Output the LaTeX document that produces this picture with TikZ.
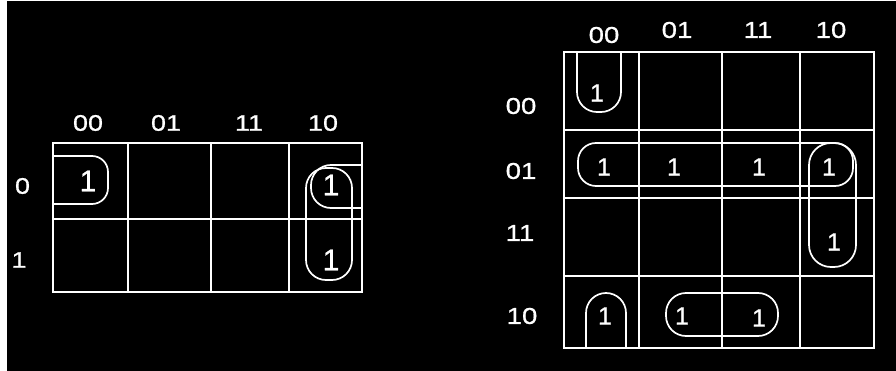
\documentclass[tikz,border=0pt]{standalone}
\usepackage{fontspec}
\setmainfont[FakeBold=0.8]{Liberation Sans}
\newfontfamily\widefont[FakeStretch=1.2,FakeBold=0.8]{Liberation Sans}
\begin{document}
\begin{tikzpicture}[x=1pt,y=-1pt,
  grid/.style={draw=white,line width=1.8pt},
  loop/.style={draw=white,line width=1.7pt},
  lbl/.style={text=white,inner sep=0pt,font=\widefont\fontsize{22.5}{22.5}\selectfont},
  lblr/.style={text=white,inner sep=0pt,font=\widefont\fontsize{23}{23}\selectfont},
  oneL/.style={text=white,inner sep=0pt,font=\fontsize{30}{30}\selectfont},
  oneR/.style={text=white,inner sep=0pt,font=\fontsize{25}{25}\selectfont}]
\useasboundingbox (0,0) rectangle (896,371);
\fill[white] (0,0) rectangle (896,371);
\fill[black] (7,1.2) rectangle (896,371);
% ---------- left map ----------
\draw[grid] (53,143) rectangle (362,292);
\draw[grid] (53,219) -- (362,219);
\foreach \x in {128,211,289} \draw[grid] (\x,143) -- (\x,292);
\node[lbl] (lc00) at (88,123) {00};
\node[lbl] (lc01) at (166,123) {01};
\node[lbl] (lc11) at (249,123) {11};
\node[lbl] (lc10) at (323,123) {10};
\node[lbl] (lr0) at (22.5,186) {0};
\node[lbl] (lr1) at (19,260) {1};
\node[oneL] (l1a) at (88,181) {1};
\node[oneL] (l1b) at (331,185) {1};
\node[oneL] (l1c) at (331,260) {1};
\draw[loop,rounded corners=16pt] (53,156) -- (108,156) -- (108,204) -- (53,204);
\draw[loop,rounded corners=20pt] (362,165) -- (311,165) -- (311,208) -- (362,208);
\draw[loop,rounded corners=20pt] (306,168) rectangle (352,280);
% ---------- right map ----------
\draw[grid] (564,52) rectangle (874,348);
\foreach \y in {130,198,276} \draw[grid] (564,\y) -- (874,\y);
\foreach \x in {639,722,800} \draw[grid] (\x,52) -- (\x,348);
\node[lblr] (rc00) at (604,35) {00};
\node[lblr] (rc01) at (677,30) {01};
\node[lblr] (rc11) at (758,30) {11};
\node[lblr] (rc10) at (831,30) {10};
\node[lblr] (rr00) at (521,106) {00};
\node[lblr] (rr01) at (521,171) {01};
\node[lblr] (rr11) at (520,233) {11};
\node[lblr] (rr10) at (522,316) {10};
\node[oneR] (r1a) at (597,93) {1};
\node[oneR] (r1b) at (604,167) {1};
\node[oneR] (r1c) at (674,167) {1};
\node[oneR] (r1d) at (759,167) {1};
\node[oneR] (r1e) at (829,167) {1};
\node[oneR] (r1f) at (834,242) {1};
\node[oneR] (r1g) at (605,316) {1};
\node[oneR] (r1h) at (682,316) {1};
\node[oneR] (r1i) at (759,318) {1};
\draw[loop,rounded corners=20pt] (577,52) -- (577,112) -- (621,112) -- (621,52);
\draw[loop,rounded corners=18pt] (578,143) rectangle (853,186);
\draw[loop,rounded corners=22pt] (809,143) rectangle (856,267);
\draw[loop,rounded corners=20pt] (586,348) -- (586,293) -- (626,293) -- (626,348);
\draw[loop,rounded corners=20pt] (666,293) rectangle (778,336);
\end{tikzpicture}
\end{document}
